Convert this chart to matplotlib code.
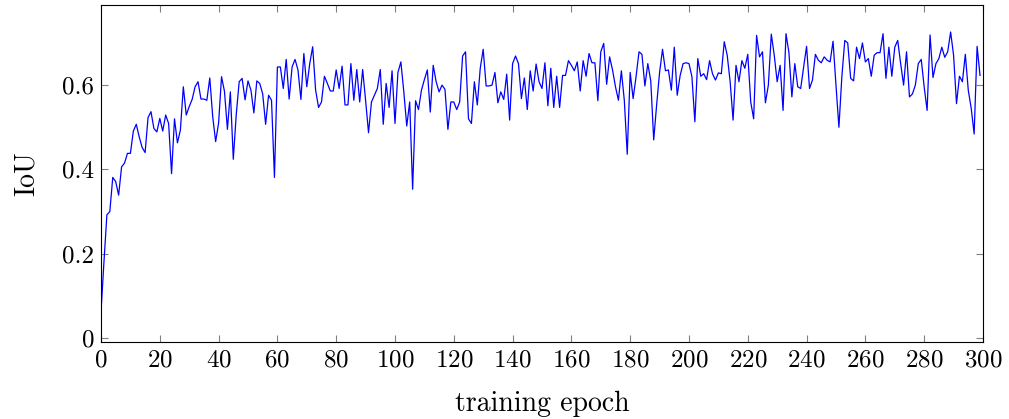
import matplotlib
matplotlib.use("Agg")
import matplotlib.pyplot as plt

# IoU per training epoch (epochs 0..299)
iou_0_49 = [0.062, 0.18, 0.292, 0.30, 0.381, 0.371, 0.339, 0.406, 0.415, 0.438,
            0.438, 0.491, 0.507, 0.477, 0.452, 0.44, 0.523, 0.537, 0.497, 0.489,
            0.521, 0.491, 0.529, 0.509, 0.39, 0.52, 0.463, 0.493, 0.596, 0.529,
            0.549, 0.566, 0.596, 0.608, 0.567, 0.567, 0.564, 0.617, 0.525, 0.466,
            0.51, 0.62, 0.585, 0.495, 0.584, 0.424, 0.53, 0.608, 0.616, 0.565]
iou_50_99 = [0.61, 0.588, 0.534, 0.61, 0.604, 0.579, 0.507, 0.576, 0.564, 0.381,
             0.643, 0.643, 0.592, 0.661, 0.567, 0.643, 0.661, 0.636, 0.566, 0.675,
             0.596, 0.651, 0.691, 0.588, 0.547, 0.56, 0.621, 0.604, 0.586, 0.586,
             0.636, 0.592, 0.645, 0.553, 0.553, 0.651, 0.564, 0.637, 0.56, 0.637,
             0.564, 0.487, 0.56, 0.576, 0.592, 0.637, 0.507, 0.604, 0.547, 0.634]
iou_100_149 = [0.509, 0.63, 0.655, 0.584, 0.503, 0.56, 0.353, 0.563, 0.542, 0.588,
               0.613, 0.636, 0.536, 0.647, 0.608, 0.584, 0.6, 0.59, 0.495, 0.56,
               0.56, 0.542, 0.56, 0.669, 0.679, 0.52, 0.509, 0.608, 0.553, 0.64,
               0.685, 0.598, 0.598, 0.6, 0.63, 0.558, 0.584, 0.566, 0.626, 0.517,
               0.651, 0.669, 0.651, 0.568, 0.617, 0.542, 0.634, 0.586, 0.65, 0.608]
iou_150_199 = [0.592, 0.653, 0.551, 0.64, 0.547, 0.621, 0.547, 0.623, 0.623, 0.658,
               0.647, 0.634, 0.655, 0.586, 0.658, 0.621, 0.675, 0.653, 0.653, 0.563,
               0.679, 0.699, 0.602, 0.667, 0.636, 0.596, 0.564, 0.634, 0.564, 0.436,
               0.63, 0.568, 0.62, 0.679, 0.673, 0.598, 0.651, 0.61, 0.47, 0.553,
               0.63, 0.685, 0.634, 0.636, 0.588, 0.69, 0.576, 0.623, 0.651, 0.653]
iou_200_249 = [0.651, 0.62, 0.513, 0.663, 0.621, 0.627, 0.613, 0.658, 0.627, 0.612,
               0.629, 0.627, 0.703, 0.671, 0.608, 0.517, 0.647, 0.608, 0.658, 0.64,
               0.673, 0.56, 0.52, 0.718, 0.667, 0.679, 0.558, 0.6, 0.721, 0.671,
               0.608, 0.647, 0.54, 0.722, 0.677, 0.572, 0.651, 0.596, 0.592, 0.643,
               0.692, 0.592, 0.612, 0.673, 0.659, 0.653, 0.667, 0.659, 0.655, 0.704]
iou_250_299 = [0.60, 0.50, 0.62, 0.706, 0.70, 0.616, 0.61, 0.69, 0.663, 0.70,
               0.655, 0.663, 0.621, 0.671, 0.677, 0.677, 0.722, 0.616, 0.69, 0.621,
               0.69, 0.706, 0.651, 0.60, 0.679, 0.572, 0.579, 0.6, 0.651, 0.661,
               0.596, 0.54, 0.719, 0.618, 0.651, 0.663, 0.69, 0.666, 0.679, 0.726,
               0.671, 0.556, 0.621, 0.608, 0.673, 0.588, 0.545, 0.484, 0.692, 0.623]

iou = iou_0_49 + iou_50_99 + iou_100_149 + iou_150_199 + iou_200_249 + iou_250_299
epochs = list(range(len(iou)))

x_ticks = list(range(0, 301, 20))
y_ticks = [0, 0.2, 0.4, 0.6]

plt.rcParams['font.family'] = 'serif'
plt.rcParams['font.serif'] = ['cmr10', 'DejaVu Serif']
plt.rcParams['axes.formatter.use_mathtext'] = True

fig = plt.figure(figsize=(10.09, 4.19), dpi=100)
ax = fig.add_axes([0.1001, 0.1838, 0.8741, 0.8042])

ax.plot(epochs, iou, color='blue', linewidth=0.9)

ax.set_xlim(0, 300)
ax.set_ylim(-0.0095, 0.79)
ax.set_xticks(x_ticks)
ax.set_yticks(y_ticks)
ax.set_yticklabels(["0", "0.2", "0.4", "0.6"])

ax.tick_params(direction='in', length=5, width=0.8, color='#808080',
               top=True, right=True, labelsize=18, pad=5)
for s in ax.spines.values():
    s.set_linewidth(0.8)

ax.set_xlabel("training epoch", fontsize=20, labelpad=14)
ax.set_ylabel("IoU", fontsize=20, labelpad=16)

fig.savefig("out.png", dpi=100)
